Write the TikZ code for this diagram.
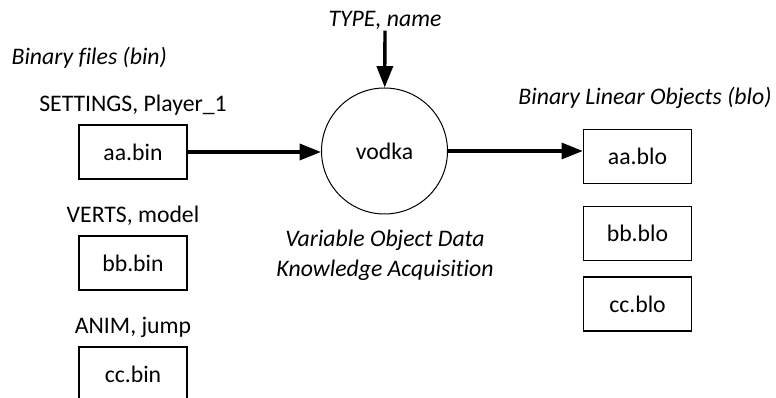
\documentclass[tikz,border=0pt]{standalone}
\usepackage{fontspec}
\setmainfont{Carlito}[Ligatures=NoCommon]
\usetikzlibrary{arrows.meta}

\begin{document}
\begin{tikzpicture}[x=0.75pt, y=-0.75pt,
    font=\fontsize{17.8}{21}\selectfont,
    file/.style={draw, line width=1pt, minimum width=81pt, minimum height=40.5pt},
    tag/.style={inner sep=1pt},
    flow/.style={line width=2.5pt, -{Triangle[length=16pt, width=12pt]}}]
      \useasboundingbox (0,0) rectangle (776,398);
      % binaries
      \node[tag, anchor=west, font=\fontsize{17.8}{21}\selectfont\itshape] (bintitle) at (10,58) {Binary files (bin)};
      \foreach \f/\y/\t [count=\xi] in {aa/152/{SETTINGS, Player\_1}, bb/263/{VERTS, model}, cc/374/{ANIM, jump}} {
        \node[file] (\f bin) at (133,\y) {\f.bin};
        \node[tag] (bintag\xi) at (133,\y-47) {\t};
      }
      % tool
      \node[draw, circle, line width=0.75pt, minimum size=94.5pt] (vodka) at (384.5,151) {vodka};
      \node[tag, font=\fontsize{17.8}{21}\selectfont\itshape] (type) at (385,20) {TYPE, name};
      \node[tag, align=center, font=\fontsize{17.8}{22.5}\selectfont\itshape] (acro) at (385,255)
        {Variable Object Data\\Knowledge Acquisition};
      % blos
      \node[tag, font=\fontsize{17.8}{21}\selectfont\itshape] (blotitle) at (645,98) {Binary Linear Objects (blo)};
      \foreach \f/\y in {aa/156.5, bb/233.5, cc/304} {
        \node[file] (\f blo) at (637.5,\y) {\f.blo};
      }
      \draw[flow] (type) -- (vodka);
      \draw[flow] (aabin.east) -- (aabin.east -| vodka.west);
      \draw[flow] (vodka.east) -- (vodka.east -| aablo.west);
    \end{tikzpicture}
\end{document}
